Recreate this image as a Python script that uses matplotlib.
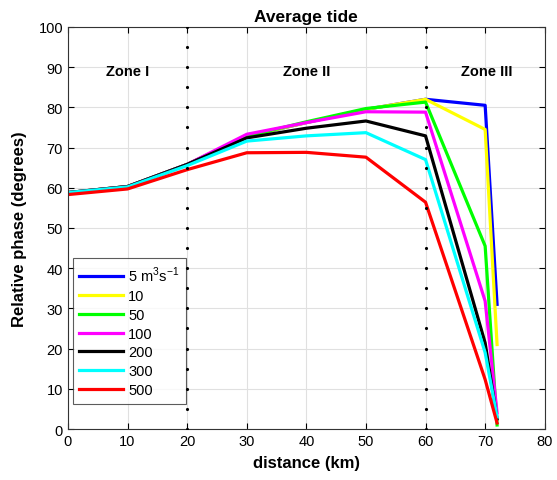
import numpy as np
import matplotlib
matplotlib.use('Agg')
import matplotlib.pyplot as plt

plt.rcParams['font.family'] = ['Liberation Sans', 'DejaVu Sans']
plt.rcParams['mathtext.fontset'] = 'custom'
plt.rcParams['mathtext.rm'] = 'Liberation Sans'

distance = [0, 10, 20, 30, 40, 50, 60, 70, 72]
q5 = [58.8, 60.3, 65.8, 72.8, 76.2, 79.5, 82.0, 80.5, 31.0]
q10 = [58.8, 60.3, 65.8, 72.8, 76.2, 79.5, 82.0, 74.5, 21.0]
q50 = [58.8, 60.3, 65.8, 72.8, 76.4, 79.7, 81.3, 45.5, 1.0]
q100 = [58.8, 60.3, 65.8, 73.3, 76.2, 78.9, 78.8, 31.8, 4.0]
q200 = [58.8, 60.3, 65.8, 72.4, 74.8, 76.6, 72.9, 21.4, 2.5]
q300 = [58.8, 60.2, 65.5, 71.6, 72.9, 73.7, 67.0, 19.0, 3.0]
q500 = [58.3, 59.7, 64.5, 68.7, 68.8, 67.6, 56.4, 12.3, 1.5]

series = [q5, q10, q50, q100, q200, q300, q500]
labels = ['5 m$^{3}$s$^{-1}$', '10', '50', '100', '200', '300', '500']
colors = ['#0000ff', '#ffff00', '#00ff00', '#ff00ff', '#000000', '#00ffff', '#ff0000']

zone_bounds = [20, 60]
zone_names = ['Zone I', 'Zone II', 'Zone III']
zone_label_x = [10, 40, 70.3]

fig = plt.figure(figsize=(5.57, 4.81), dpi=100)
ax = fig.add_axes([0.122, 0.106, 0.856, 0.836])

for vals, lab, c in zip(series, labels, colors):
    ax.plot(distance, vals, color=c, lw=2.3, label=lab)

for xb in zone_bounds:
    yy = np.arange(0, 101, 5)
    ax.plot([xb] * len(yy), yy, 'k.', ms=2.5, zorder=3)

for name, xl in zip(zone_names, zone_label_x):
    ax.text(xl, 89, name, ha='center', va='center', fontsize=10.5, fontweight='bold')

ax.set_xlim(0, 80)
ax.set_ylim(0, 100)
ax.set_xticks(np.arange(0, 81, 10))
ax.set_yticks(np.arange(0, 101, 10))
ax.grid(True, color='#e0e0e0', lw=0.8)
ax.set_axisbelow(True)
ax.tick_params(direction='in', top=True, right=True, labelsize=10.5, length=4)
for s in ax.spines.values():
    s.set_color('#333333')
    s.set_linewidth(0.8)

ax.set_xlabel('distance (km)', fontsize=12, fontweight='bold', labelpad=5)
ax.set_ylabel('Relative phase (degrees)', fontsize=12, fontweight='bold', labelpad=8)
ax.set_title('Average tide', fontsize=12.5, fontweight='bold', pad=4)

leg = ax.legend(loc='lower left', bbox_to_anchor=(0.01, 0.063), fontsize=10.5,
                handlelength=3.0, frameon=True, fancybox=False, borderpad=0.45,
                labelspacing=0.33, handletextpad=0.35, borderaxespad=0)
leg.get_frame().set_edgecolor('#333333')
leg.get_frame().set_linewidth(0.8)
leg.set_zorder(2)

fig.savefig('out.png', dpi=100)
